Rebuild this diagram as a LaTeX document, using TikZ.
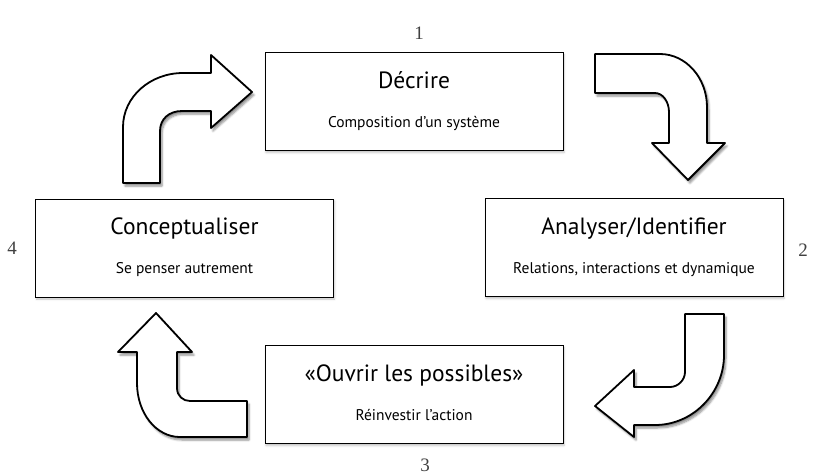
\documentclass[tikz,border=0pt]{standalone}
\usepackage{fontspec}
\setmainfont{PT Sans}
\newfontfamily\chiffres{Liberation Serif}
\usetikzlibrary{shadows.blur}
\tikzset{
  boite/.style={draw, line width=1pt, fill=white, minimum width=298pt, minimum height=98pt, inner sep=0pt,
    blur shadow={shadow xshift=1pt, shadow yshift=-2pt, shadow opacity=25, shadow blur steps=4}},
  titre/.style={anchor=base, inner sep=0pt, font=\fontsize{23.5}{28}\selectfont},
  sous/.style={anchor=base, inner sep=0pt, font=\fontsize{15.5}{18}\selectfont},
  numero/.style={text=black!75, inner sep=0pt, font=\chiffres\fontsize{19}{22}\selectfont},
  fleche/.style={draw, line width=1.8pt, fill=white, line join=round,
    blur shadow={shadow xshift=2pt, shadow yshift=-3pt, shadow opacity=45, shadow blur steps=6}}
}

\begin{document}
\begin{tikzpicture}[x=1pt, y=-1pt]
  \useasboundingbox (0,0) rectangle (816,475);
  % les quatre fleches
  \draw[fleche] (123,183) -- (123,127) .. controls (123,97) and (150,73) .. (183,73) -- (211,73) -- (211,55)
    -- (252,92) -- (211,128) -- (211,111) -- (182,111) .. controls (169,111) and (160,119) .. (160,131) -- (160,183) -- cycle;
  \draw[fleche] (595,54) -- (660,54) .. controls (686,54) and (707,78) .. (707,107) -- (707,143) -- (725,143)
    -- (688,180) -- (652,143) -- (669,143) -- (669,112) .. controls (669,102) and (663,93) .. (655,93) -- (595,93) -- cycle;
  \draw[fleche] (685,314) -- (724,314) -- (724,355) .. controls (724,393) and (693,425) .. (655,425) -- (634,425) -- (634,437)
    -- (595,406) -- (634,370) -- (634,387) -- (670,387) .. controls (678,387) and (685,380) .. (685,372) -- cycle;
  \draw[fleche] (247,401) -- (247,437) -- (180,437) .. controls (156,437) and (137,413) .. (137,383) -- (137,352) -- (118,352)
    -- (156,313) -- (192,352) -- (177,352) -- (177,388) .. controls (177,396) and (183,401) .. (190,401) -- cycle;
  % les quatre etapes
  \node[boite] (decrire) at (414,101.5) {};
  \node[titre] at ([yshift=-36pt]decrire.north) {Décrire};
  \node[sous] at ([yshift=-75pt]decrire.north) {Composition d’un système};
  \node[boite] (analyser) at (634,247.5) {};
  \node[titre] at ([yshift=-36pt]analyser.north) {Analyser/Identifier};
  \node[sous] at ([yshift=-75pt]analyser.north) {Relations, interactions et dynamique};
  \node[boite] (ouvrir) at (414,394.5) {};
  \node[titre] at ([yshift=-36pt]ouvrir.north) {«Ouvrir les possibles»};
  \node[sous] at ([yshift=-75pt]ouvrir.north) {Réinvestir l’action};
  \node[boite] (concept) at (184.5,248) {};
  \node[titre] at ([yshift=-36pt]concept.north) {Conceptualiser};
  \node[sous] at ([yshift=-75pt]concept.north) {Se penser autrement};
  % numeros
  \node[numero] (n1) at (419,33) {1};
  \node[numero] (n2) at (803,250) {2};
  \node[numero] (n3) at (425,465) {3};
  \node[numero] (n4) at (12,248) {4};
\end{tikzpicture}
\end{document}
